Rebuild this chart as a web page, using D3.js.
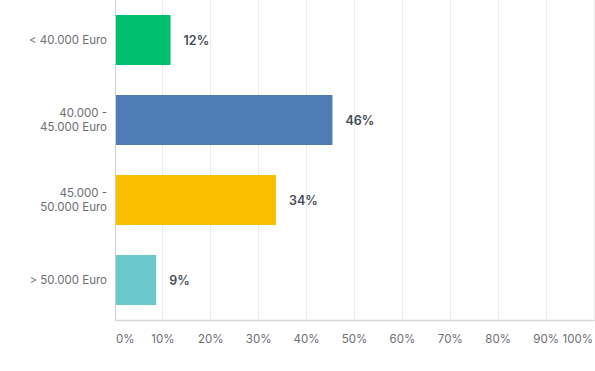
<!DOCTYPE html>
<html><head><meta charset="utf-8">
<script src="https://cdn.jsdelivr.net/npm/d3@7"></script>
<style>body{margin:0;background:#fff;}svg{display:block;font-family:Inter,"Noto Sans",sans-serif;}</style>
</head><body>
<svg id="c" width="595" height="371"></svg>
<script>
const categories = [["< 40.000 Euro"], ["40.000 -", "45.000 Euro"], ["45.000 -", "50.000 Euro"], ["> 50.000 Euro"]];
const values = [11.6, 45.4, 33.6, 8.6];
const valueLabels = ["12%", "46%", "34%", "9%"];
const colors = ["#00bf6f", "#507cb6", "#f9be00", "#6bc8cd"];
const ticks = [0, 10, 20, 30, 40, 50, 60, 70, 80, 90, 100];
const tickLabels = ticks.map(t => t + "%");

const svg = d3.select("#c");
const m = {left: 115, right: 1, top: 0, bottom: 50};
const W = 595, H = 371;
const x = d3.scaleLinear().domain([0, 100]).range([m.left, W - m.right]);
const y = d3.scaleBand().domain(d3.range(categories.length)).range([0, 320]).paddingInner(0.375).paddingOuter(0.1875);

// gridlines
svg.append("g").selectAll("line").data(ticks.slice(1)).join("line")
  .attr("x1", d => x(d)).attr("x2", d => x(d)).attr("y1", 0).attr("y2", 320.5)
  .attr("stroke", "#ececec").attr("stroke-width", 1).attr("shape-rendering", "crispEdges");

// bars
svg.append("g").selectAll("rect").data(values).join("rect")
  .attr("x", x(0)).attr("y", (d, i) => y(i)).attr("width", d => x(d) - x(0)).attr("height", y.bandwidth())
  .attr("fill", (d, i) => colors[i]);

// axes lines
svg.append("line").attr("x1", x(0)).attr("x2", x(0)).attr("y1", 0).attr("y2", 321)
  .attr("stroke", "#cfcfcf").attr("shape-rendering", "crispEdges");
svg.append("line").attr("x1", x(0)).attr("x2", x(100)).attr("y1", 320.5).attr("y2", 320.5)
  .attr("stroke", "#d6d6d6").attr("stroke-width", 1.5);

// x tick labels
svg.append("g").selectAll("text").data(ticks).join("text")
  .attr("x", (d, i) => i === 0 ? x(d) + 1 : (i === ticks.length - 1 ? x(d) - 1 : x(d)))
  .attr("y", 343)
  .attr("text-anchor", (d, i) => i === 0 ? "start" : (i === ticks.length - 1 ? "end" : "middle"))
  .attr("fill", "#6b6e73").attr("font-size", 11.5)
  .text((d, i) => tickLabels[i]);

// category labels
const cl = svg.append("g").selectAll("text").data(categories).join("text")
  .attr("text-anchor", "end").attr("fill", "#6b6e73").attr("font-size", 11.5)
  .attr("y", (d, i) => y(i) + y.bandwidth() / 2 - (d.length - 1) * 7 + 4);
cl.selectAll("tspan").data(d => d).join("tspan")
  .attr("x", 107).attr("dy", (d, j) => j === 0 ? 0 : 14).text(d => d);

// value labels
svg.append("g").selectAll("text").data(values).join("text")
  .attr("x", d => x(d) + 13).attr("y", (d, i) => y(i) + y.bandwidth() / 2 + 4.5)
  .attr("fill", "#454b55").attr("font-size", 12.5).attr("font-weight", 600)
  .text((d, i) => valueLabels[i]);
</script>
</body></html>
